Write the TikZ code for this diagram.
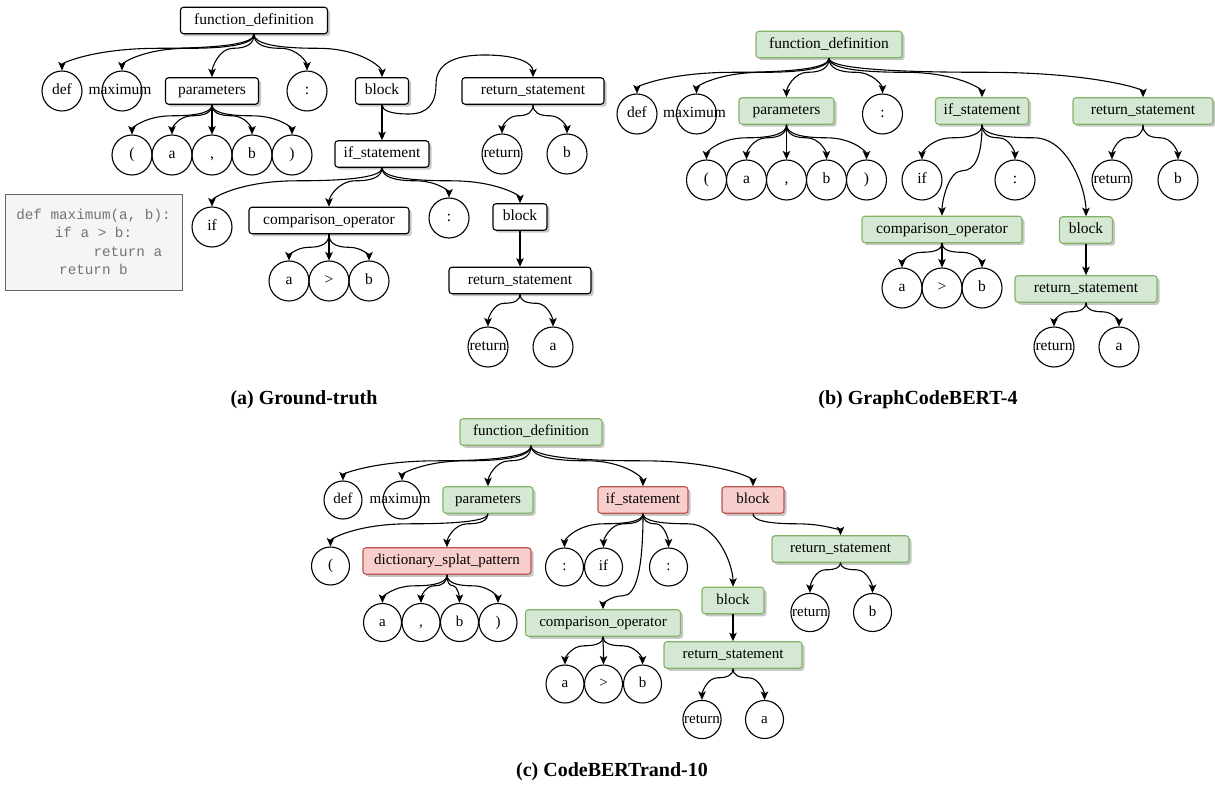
\documentclass[tikz,border=0pt]{standalone}
\usepackage{fontspec}
\setmainfont{Liberation Serif}
\setmonofont{Liberation Mono}
\usepackage{tikz}
\usetikzlibrary{calc,arrows.meta,shadows}

\definecolor{okfill}{HTML}{D5E8D4}
\definecolor{okline}{HTML}{82B366}
\definecolor{badfill}{HTML}{F8CECC}
\definecolor{badline}{HTML}{B85450}
\definecolor{codefill}{HTML}{F5F5F5}
\definecolor{codeline}{HTML}{666666}

\newcommand{\nodefont}{\fontsize{15.5}{18}\selectfont}
\newcommand{\codefont}{\ttfamily\fontsize{14.3}{18.5}\selectfont}

\tikzset{
  ast/.style={draw, line width=1.1pt, rounded corners=3pt, fill=white,
    minimum height=26.5pt, inner xsep=4pt, text height=10.5pt, text depth=3pt,
    drop shadow={shadow xshift=2.5pt, shadow yshift=-2.5pt, fill=black!22, opacity=1}},
  ok/.style={ast, fill=okfill, draw=okline},
  bad/.style={ast, fill=badfill, draw=badline},
  wd/.style={minimum width=#1pt},
  leaf/.style={circle, draw, line width=1.1pt, minimum size=40pt, inner sep=0pt,
    text height=10.5pt, text depth=3pt},
  wideleaf/.style={leaf, label={[xshift=-2pt, text height=10.5pt, text depth=3pt]center:#1}},
  link/.style={-{Stealth[length=8.5pt,width=7.5pt,inset=2pt]}, line width=1.1pt},
  branch/.style={link, to path={let \p1=(\tikztostart), \p2=(\tikztotarget),
      \n1={\y1-#1}, \n2={(\x1+\x2)/2} in
      (\p1) .. controls (\x1,{\y1-2/3*#1}) and ({\n2+2/3*(\x1-\n2)},\n1) .. (\n2,\n1)
      .. controls ({\n2+2/3*(\x2-\n2)},\n1) and (\x2,{\n1+2/3*(\y2-\n1)}) .. (\p2)}},
  branch/.default=12,
  code/.style={draw=codeline, fill=codefill, line width=0.8pt, font=\codefont,
    text=black!55, align=center, minimum width=177pt, minimum height=96pt},
  caption/.style={font=\bfseries\fontsize{20}{24}\selectfont}
}

\begin{document}
\begin{tikzpicture}[x=1pt, y=-1pt, font=\nodefont]
\useasboundingbox (0,0) rectangle (1215,786);

% (a) ground truth
\node[code] (src) at (93.5,242) {def maximum(a, b):\\if a > b:\\\hphantom{xxxxxxxx}return a\\return b};
\node[ast, wd=147] (fdA) at (254,20.5) {function\_definition};
\node[leaf] (defA) at (62,91) {def};
\node[wideleaf=maximum] (maxA) at (122,91) {};
\node[ast, wd=93] (parA) at (212,91) {parameters};
\node[leaf] (colA) at (307,91) {:};
\node[ast, wd=53] (blkA) at (382,91) {block};
\node[ast, wd=142] (retA) at (533,91) {return\_statement};
\node[leaf] (lpA) at (132,155) {(};
\node[leaf] (aA) at (172,155) {a};
\node[leaf] (cmA) at (212,155) {,};
\node[leaf] (bA) at (252,155) {b};
\node[leaf] (rpA) at (292,155) {)};
\node[ast, wd=94] (ifA) at (382,154) {if\_statement};
\node[leaf] (kwretA) at (502,154) {return};
\node[leaf] (retbA) at (567,154) {b};
\node[leaf] (kwifA) at (212,227) {if};
\node[ast, wd=160] (cmpA) at (329,220.5) {comparison\_operator};
\node[leaf] (col2A) at (449,218) {:};
\node[ast, wd=54] (blk2A) at (520,217) {block};
\node[leaf] (xA) at (289,281) {a};
\node[leaf] (gtA) at (329,281) {>};
\node[leaf] (yA) at (369,281) {b};
\node[ast, wd=142] (ret2A) at (520,280.5) {return\_statement};
\node[leaf] (kwret2A) at (488,347) {return};
\node[leaf] (reta2A) at (553,347) {a};

\path[branch=14] (fdA.south) edge (defA.north) edge (maxA.north) edge (parA.north)
  edge (colA.north) edge (blkA.north);
\path[branch=11] (parA.south) edge (lpA.north) edge (aA.north) edge (cmA.north)
  edge (bA.north) edge (rpA.north);
\path[branch] (blkA.south) edge (ifA.north);
\draw[link] (blkA.south) .. controls (382,110.7) and (391,114) .. (409,114)
  .. controls (427,114) and (436,104.2) .. (436,84.5)
  .. controls (436,64.8) and (452,55) .. (484.5,55)
  .. controls (517,55) and (533,62.7) .. (retA.north);
\path[branch=11] (retA.south) edge (kwretA.north) edge (retbA.north);
\path[branch=13] (ifA.south) edge (kwifA.north) edge (cmpA.north) edge (col2A.north)
  edge (blk2A.north);
\path[branch=13] (cmpA.south) edge (xA.north) edge (gtA.north) edge (yA.north);
\path[branch] (blk2A.south) edge (ret2A.north);
\path[branch=9] (ret2A.south) edge (kwret2A.north) edge (reta2A.north);
\node[caption] (capA) at (304,400) {(a) Ground-truth};

% (b) GraphCodeBERT-4
\node[ok, wd=146] (fdB) at (829,44.5) {function\_definition};
\node[leaf] (defB) at (637,114) {def};
\node[wideleaf=maximum] (maxB) at (696.5,114) {};
\node[ok, wd=95] (parB) at (786.5,111) {parameters};
\node[leaf] (colB) at (882.5,114) {:};
\node[ok, wd=93] (ifB) at (982,111) {if\_statement};
\node[ok, wd=140] (retB) at (1143,111) {return\_statement};
\node[leaf] (lpB) at (706.5,180) {(};
\node[leaf] (aB) at (746.5,180) {a};
\node[leaf] (cmB) at (786.5,180) {,};
\node[leaf] (bB) at (826.5,180) {b};
\node[leaf] (rpB) at (866.5,180) {)};
\node[leaf] (kwifB) at (922,180) {if};
\node[leaf] (col2B) at (1015,180) {:};
\node[leaf] (kwretB) at (1112,180) {return};
\node[leaf] (retbB) at (1178,180) {b};
\node[ok, wd=160] (cmpB) at (942,229.5) {comparison\_operator};
\node[ok, wd=53] (blkB) at (1086,230) {block};
\node[leaf] (xB) at (902,288) {a};
\node[leaf] (gtB) at (942,288) {>};
\node[leaf] (yB) at (982,288) {b};
\node[ok, wd=142] (ret2B) at (1086,289) {return\_statement};
\node[leaf] (kwret2B) at (1054,347) {return};
\node[leaf] (reta2B) at (1119,347) {a};

\path[branch=14] (fdB.south) edge (defB.north) edge (maxB.north) edge (parB.north)
  edge (colB.north) edge (ifB.north) edge (retB.north);
\path[branch=13] (parB.south) edge (lpB.north) edge (aB.north) edge (cmB.north)
  edge (bB.north) edge (rpB.north);
\path[branch=13] (ifB.south) edge (kwifB.north) edge (col2B.north) edge (blkB.north);
\path[branch=46] (ifB.south) edge (cmpB.north);
\path[branch=13] (retB.south) edge (kwretB.north) edge (retbB.north);
\path[branch=9] (cmpB.south) edge (xB.north) edge (gtB.north) edge (yB.north);
\path[branch] (blkB.south) edge (ret2B.north);
\path[branch=9] (ret2B.south) edge (kwret2B.north) edge (reta2B.north);
\node[caption] (capB) at (918,400) {(b) GraphCodeBERT-4};

% (c) CodeBERTrand-10
\begin{scope}[leaf/.append style={minimum size=38pt}, font=\fontsize{15}{18}\selectfont]
\node[ok, wd=142] (fdC) at (531,432) {function\_definition};
\node[leaf] (defC) at (343,500) {def};
\node[wideleaf=maximum] (maxC) at (402,500) {};
\node[ok, wd=90] (parC) at (488,500) {parameters};
\node[bad, wd=90] (ifC) at (643,500) {if\_statement};
\node[bad, wd=62] (blkC) at (753,500) {block};
\node[leaf] (lpC) at (330.5,566) {(};
\node[bad, wd=168] (dspC) at (447,561) {dictionary\_splat\_pattern};
\node[leaf] (aC) at (382.5,622.5) {a};
\node[leaf] (cmC) at (421,622.5) {,};
\node[leaf] (bC) at (459.5,622.5) {b};
\node[leaf] (rpC) at (498,622.5) {)};
\node[leaf] (col1C) at (564.5,567) {:};
\node[leaf] (kwifC) at (603.5,567) {if};
\node[leaf] (col2C) at (668.5,567) {:};
\node[ok, wd=155] (cmpC) at (603,623) {comparison\_operator};
\node[leaf] (xC) at (565,684) {a};
\node[leaf] (gtC) at (603.5,684) {>};
\node[leaf] (yC) at (642.5,684) {b};
\node[ok, wd=62] (blk2C) at (733,600.5) {block};
\node[ok, wd=138] (ret2C) at (733,655) {return\_statement};
\node[leaf] (kwret2C) at (702,719.5) {return};
\node[leaf] (reta2C) at (764.5,719.5) {a};
\node[ok, wd=137] (retC) at (840.5,549) {return\_statement};
\node[leaf] (kwretC) at (810,612.5) {return};
\node[leaf] (retbC) at (872.5,612.5) {b};
\end{scope}

\path[branch=15] (fdC.south) edge (defC.north) edge (maxC.north) edge (parC.north)
  edge (ifC.north) edge (blkC.north);
\path[branch=10] (parC.south) edge (lpC.north) edge (dspC.north);
\path[branch=11] (dspC.south) edge (aC.north) edge (cmC.north) edge (bC.north)
  edge (rpC.north);
\path[branch=10] (ifC.south) edge (col1C.north) edge (kwifC.north) edge (col2C.north)
  edge (blk2C.north);
\path[branch=82] (ifC.south) edge (cmpC.north);
\path[branch=10] (blkC.south) edge (retC.north);
\path[branch=7] (retC.south) edge (kwretC.north) edge (retbC.north);
\path[branch=9] (cmpC.south) edge (xC.north) edge (gtC.north) edge (yC.north);
\path[branch] (blk2C.south) edge (ret2C.north);
\path[branch=9] (ret2C.south) edge (kwret2C.north) edge (reta2C.north);
\node[caption] (capC) at (612,772) {(c) CodeBERTrand-10};
\end{tikzpicture}
\end{document}
